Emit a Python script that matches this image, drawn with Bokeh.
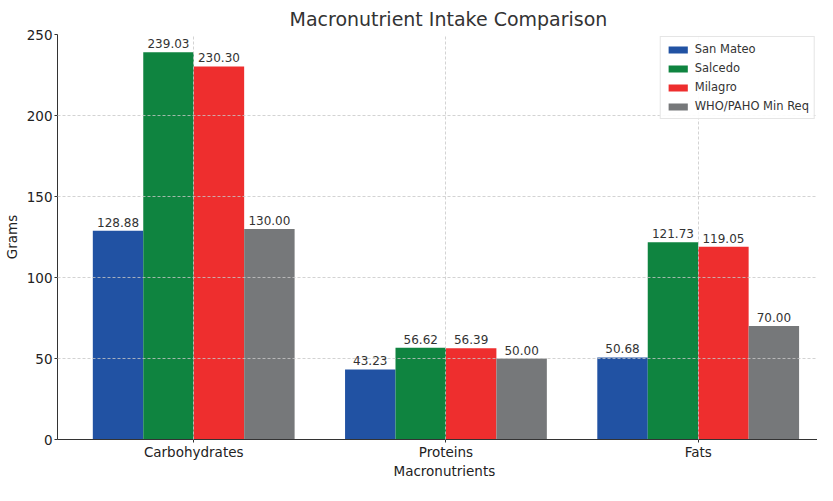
from bokeh.plotting import figure
from bokeh.models import ColumnDataSource, LabelSet, FixedTicker, Legend, LegendItem, Title
from bokeh.core.properties import value
from bokeh.embed import file_html
from bokeh.resources import INLINE

categories = ["Carbohydrates", "Proteins", "Fats"]
series_names = ["San Mateo", "Salcedo", "Milagro", "WHO/PAHO Min Req"]
san_mateo = [128.88, 43.23, 50.68]
salcedo = [239.03, 56.62, 121.73]
milagro = [230.30, 56.39, 119.05]
who_paho = [130.00, 50.00, 70.00]
colors = ["#2152a3", "#0f8440", "#ee2e2e", "#76787a"]
y_ticks = [0, 50, 100, 150, 200, 250]
x_title = "Macronutrients"
y_title = "Grams"

FONT = "DejaVu Sans"
series_values = [san_mateo, salcedo, milagro, who_paho]
offsets = [-0.3, -0.1, 0.1, 0.3]
bar_w = 0.2

p = figure(width=817, height=480, output_backend="svg", toolbar_location=None,
           x_range=(-0.54, 2.473), y_range=(0, 250),
           min_border_left=53, min_border_right=0, min_border_top=28, min_border_bottom=0)

p.title.text = "Macronutrient Intake Comparison"
p.title.align = "left"
p.title.offset = 232
p.title.text_font = FONT
p.title.text_font_size = "19px"
p.title.text_font_style = "normal"
p.title.text_color = "#333333"

items = []
for name, vals, off, col in zip(series_names, series_values, offsets, colors):
    xs = [i + off for i in range(len(categories))]
    src = ColumnDataSource(dict(x=xs, top=vals, lab=[f"{v:.2f}" for v in vals]))
    r = p.vbar(x="x", top="top", width=bar_w, bottom=0, source=src,
               fill_color=col, line_color=None)
    items.append(LegendItem(label=name, renderers=[r]))
    labels = LabelSet(x="x", y="top", text="lab", source=src, y_offset=4,
                      text_align="center", text_baseline="bottom",
                      text_font=value(FONT), text_font_size=value("12px"),
                      text_color="#333333")
    p.add_layout(labels)

legend = Legend(items=items, location="top_right")
legend.label_text_font = FONT
legend.label_text_font_size = "11.5px"
legend.label_text_color = "#333333"
legend.glyph_width = 24
legend.glyph_height = 9
legend.label_height = 12
legend.spacing = 5
legend.padding = 5
legend.margin = 2
legend.border_line_color = "#cccccc"
legend.background_fill_alpha = 0.9
p.add_layout(legend)

p.xaxis.ticker = FixedTicker(ticks=list(range(len(categories))))
p.xaxis.major_label_overrides = {i: c for i, c in enumerate(categories)}
p.yaxis.ticker = FixedTicker(ticks=y_ticks)
p.yaxis.axis_label = y_title

xtitle = Title(text=x_title, align="left", offset=336, standoff=0,
               text_font=FONT, text_font_size="13.5px", text_font_style="normal",
               text_color="#222222", vertical_align="top", text_line_height=0.9)
p.add_layout(xtitle, "below")

for ax in (p.xaxis, p.yaxis):
    ax.axis_label_text_font = FONT
    ax.axis_label_text_font_size = "13.5px"
    ax.axis_label_text_font_style = "normal"
    ax.axis_label_text_color = "#222222"
    ax.major_label_text_font = FONT
    ax.major_label_text_font_size = "13.5px"
    ax.major_label_text_color = "#222222"
    ax.axis_line_color = "#333333"
    ax.major_tick_line_color = "#333333"
    ax.major_tick_out = 3
    ax.major_tick_in = 0
    ax.minor_tick_line_color = None
    ax.major_label_standoff = 1
    ax.axis_label_standoff = 0

p.xaxis.major_label_text_line_height = 0.9
p.yaxis.major_label_orientation = "horizontal"
p.yaxis.major_label_standoff = 2
p.yaxis.axis_label_standoff = 4
p.outline_line_color = None
for g in (p.xgrid, p.ygrid):
    g.grid_line_color = "#c8c8c8"
    g.grid_line_dash = "3 2"
    g.grid_line_width = 0.8
    g.level = "guide"

open("out.html", "w").write(file_html(p, INLINE))
